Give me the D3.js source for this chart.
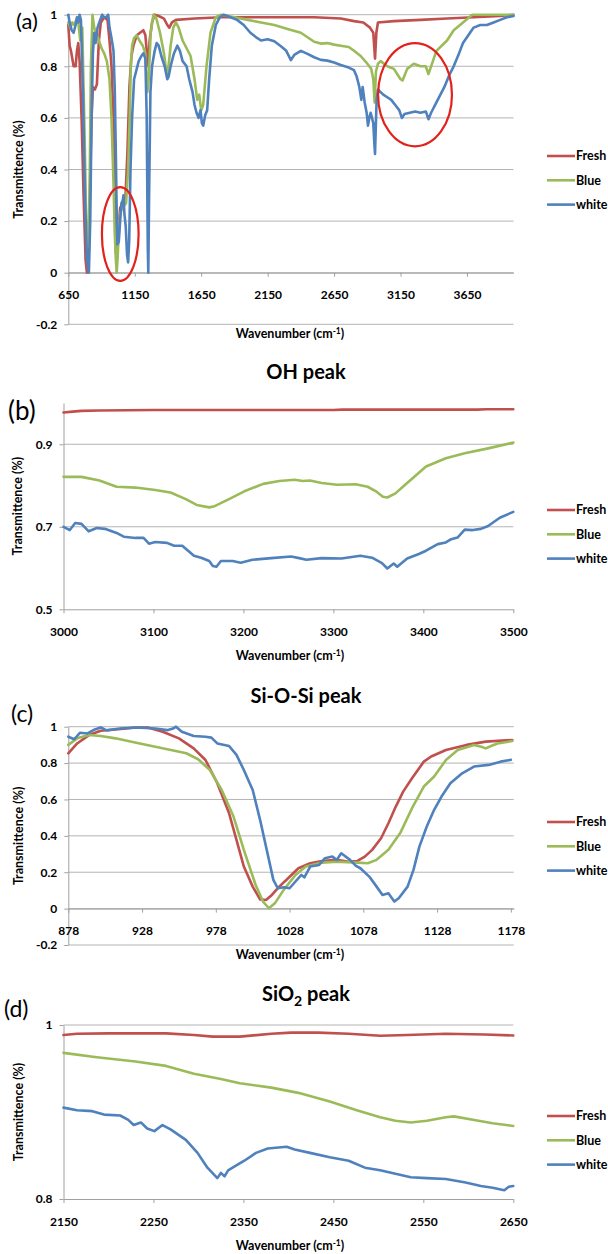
<!DOCTYPE html>
<html><head><meta charset="utf-8">
<script src="https://cdn.jsdelivr.net/npm/d3@7"></script>
<style>body{margin:0;background:#fff}svg{display:block}</style>
</head><body><svg id="chart" width="608" height="1254"></svg>
<script>
// ---------------- DATA ----------------
const seriesNames = ["Fresh", "Blue", "white"];

// Panel (a): full spectrum  [wavenumber, transmittance]
const aFresh = [[650,0.96],[660,0.88],[670,0.86],[690,0.8],[705,0.8],[715,0.86],[725,0.89],[735,0.82],[750,0.6],[765,0.3],[780,0.05],[790,0.0],[800,0.02],[812,0.3],[825,0.6],[835,0.72],[850,0.71],[865,0.73],[880,0.9],[895,0.97],[920,0.99],[945,0.98],[960,0.9],[975,0.8],[990,0.6],[1000,0.35],[1008,0.08],[1015,0.05],[1025,0.15],[1040,0.25],[1060,0.27],[1080,0.29],[1095,0.47],[1110,0.72],[1125,0.84],[1140,0.88],[1165,0.92],[1190,0.93],[1215,0.94],[1230,0.92],[1242,0.85],[1252,0.8],[1262,0.9],[1280,0.97],[1300,1.0],[1330,0.995],[1370,0.985],[1395,0.96],[1410,0.95],[1430,0.97],[1460,0.98],[1600,0.985],[1800,0.99],[2200,0.99],[2500,0.99],[2700,0.985],[2800,0.975],[2870,0.97],[2920,0.95],[2945,0.93],[2958,0.83],[2968,0.93],[2980,0.97],[3100,0.975],[3300,0.98],[3500,0.985],[3700,0.99],[3900,0.995],[4000,1.0]];
const aBlue = [[650,0.97],[665,0.95],[680,0.97],[695,0.96],[710,0.98],[725,0.97],[740,0.9],[755,0.95],[770,0.6],[785,0.2],[800,0.1],[810,0.3],[820,0.8],[832,1.0],[845,0.95],[860,0.93],[880,0.9],[900,0.87],[920,0.85],[940,0.82],[960,0.75],[975,0.6],[990,0.35],[1000,0.15],[1008,0.05],[1014,0.0],[1020,0.05],[1030,0.15],[1040,0.23],[1055,0.25],[1070,0.26],[1085,0.27],[1100,0.4],[1112,0.6],[1120,0.8],[1130,0.88],[1145,0.91],[1165,0.92],[1185,0.9],[1210,0.88],[1230,0.85],[1245,0.7],[1255,0.75],[1270,0.93],[1290,1.0],[1310,0.99],[1340,0.93],[1370,0.85],[1390,0.77],[1400,0.78],[1420,0.88],[1440,0.95],[1460,0.97],[1480,0.95],[1510,0.9],[1540,0.87],[1570,0.84],[1600,0.75],[1620,0.67],[1635,0.69],[1650,0.63],[1665,0.65],[1690,0.8],[1720,0.93],[1760,0.99],[1800,1.0],[1900,0.99],[2000,0.98],[2100,0.97],[2200,0.96],[2300,0.945],[2400,0.93],[2500,0.895],[2550,0.888],[2600,0.89],[2650,0.884],[2700,0.88],[2760,0.875],[2800,0.86],[2850,0.84],[2900,0.81],[2930,0.79],[2945,0.75],[2955,0.66],[2965,0.78],[2980,0.81],[3000,0.82],[3050,0.8],[3100,0.79],[3150,0.75],[3165,0.745],[3200,0.79],[3250,0.81],[3300,0.8],[3340,0.8],[3360,0.77],[3380,0.8],[3420,0.86],[3500,0.9],[3550,0.94],[3620,0.97],[3690,1.0],[4000,1.0]];
const aWhite = [[650,1.0],[660,0.97],[675,0.94],[690,0.93],[705,0.96],[715,0.99],[725,0.97],[735,1.0],[745,0.98],[760,0.7],[775,0.3],[790,0.05],[805,0.0],[815,0.2],[825,0.6],[835,0.85],[845,0.93],[855,0.89],[870,0.95],[890,0.98],[905,1.0],[920,0.99],[935,0.99],[950,1.0],[960,0.95],[975,0.91],[990,0.86],[1000,0.7],[1008,0.45],[1015,0.2],[1020,0.11],[1030,0.12],[1040,0.2],[1050,0.27],[1060,0.28],[1065,0.3],[1072,0.23],[1082,0.18],[1092,0.07],[1100,0.04],[1108,0.12],[1118,0.4],[1130,0.6],[1145,0.75],[1165,0.79],[1180,0.82],[1200,0.84],[1215,0.85],[1230,0.83],[1240,0.6],[1248,0.1],[1252,0.0],[1258,0.3],[1268,0.7],[1280,0.8],[1300,0.86],[1315,0.89],[1330,0.88],[1350,0.84],[1375,0.8],[1395,0.75],[1405,0.76],[1420,0.8],[1445,0.85],[1470,0.88],[1490,0.86],[1510,0.82],[1540,0.8],[1560,0.75],[1585,0.7],[1600,0.65],[1615,0.62],[1630,0.6],[1645,0.63],[1655,0.58],[1665,0.57],[1680,0.61],[1695,0.63],[1710,0.75],[1730,0.88],[1760,0.96],[1790,0.99],[1820,1.0],[1870,0.99],[1920,0.98],[1970,0.96],[2020,0.93],[2070,0.91],[2100,0.9],[2150,0.905],[2200,0.897],[2250,0.878],[2290,0.86],[2325,0.824],[2350,0.844],[2400,0.86],[2450,0.848],[2500,0.835],[2550,0.825],[2600,0.822],[2650,0.815],[2700,0.805],[2760,0.795],[2800,0.785],[2820,0.76],[2840,0.72],[2855,0.67],[2865,0.72],[2880,0.66],[2895,0.62],[2905,0.57],[2915,0.6],[2925,0.62],[2935,0.6],[2945,0.58],[2953,0.5],[2958,0.46],[2963,0.55],[2970,0.67],[2980,0.71],[3000,0.70],[3020,0.69],[3050,0.68],[3080,0.67],[3110,0.65],[3140,0.63],[3160,0.6],[3180,0.615],[3220,0.62],[3260,0.625],[3300,0.62],[3340,0.625],[3360,0.595],[3380,0.62],[3420,0.66],[3450,0.69],[3480,0.72],[3520,0.77],[3550,0.8],[3590,0.85],[3620,0.89],[3660,0.92],[3700,0.95],[3750,0.96],[3800,0.96],[3850,0.97],[3900,0.98],[3950,0.99],[4000,0.995]];

// Panel (b): OH peak
const bFresh = [[3000,0.977],[3010,0.979],[3020,0.981],[3040,0.982],[3100,0.983],[3200,0.983],[3300,0.983],[3310,0.984],[3400,0.984],[3460,0.984],[3470,0.985],[3500,0.985]];
const bBlue = [[3000,0.821],[3020,0.821],[3040,0.812],[3059,0.797],[3080,0.795],[3102,0.789],[3119,0.783],[3136,0.767],[3148,0.753],[3162,0.747],[3168,0.75],[3184,0.767],[3201,0.786],[3222,0.804],[3240,0.811],[3257,0.814],[3266,0.811],[3274,0.812],[3287,0.806],[3304,0.802],[3325,0.803],[3338,0.797],[3348,0.785],[3355,0.773],[3360,0.771],[3369,0.781],[3382,0.806],[3403,0.846],[3425,0.866],[3446,0.878],[3472,0.89],[3500,0.904]];
const bWhite = [[3000,0.70],[3007,0.692],[3013,0.709],[3020,0.707],[3028,0.689],[3037,0.697],[3046,0.695],[3059,0.685],[3067,0.676],[3080,0.673],[3089,0.673],[3095,0.659],[3102,0.663],[3115,0.661],[3123,0.654],[3132,0.654],[3145,0.630],[3153,0.625],[3162,0.617],[3166,0.605],[3170,0.603],[3175,0.617],[3188,0.617],[3197,0.613],[3210,0.620],[3231,0.624],[3253,0.628],[3262,0.624],[3270,0.620],[3287,0.624],[3309,0.623],[3330,0.630],[3343,0.625],[3354,0.612],[3360,0.599],[3367,0.611],[3371,0.603],[3382,0.623],[3395,0.634],[3403,0.642],[3416,0.658],[3425,0.662],[3431,0.670],[3438,0.674],[3446,0.693],[3455,0.692],[3464,0.695],[3472,0.702],[3485,0.722],[3500,0.736]];

// Panel (c): Si-O-Si peak
const cFresh = [[878,0.854],[884,0.908],[892,0.954],[900,0.978],[910,0.985],[924,0.996],[932,0.996],[942,0.972],[953,0.936],[963,0.881],[971,0.817],[979,0.689],[987,0.524],[992,0.378],[997,0.231],[1003,0.121],[1008,0.051],[1012,0.047],[1016,0.075],[1021,0.121],[1027,0.167],[1034,0.222],[1042,0.249],[1050,0.262],[1060,0.268],[1068,0.258],[1074,0.262],[1079,0.286],[1084,0.323],[1090,0.387],[1095,0.469],[1100,0.561],[1105,0.643],[1111,0.717],[1119,0.808],[1124,0.836],[1134,0.872],[1148,0.9],[1161,0.918],[1179,0.927]];
const cBlue = [[878,0.9],[884,0.936],[892,0.954],[900,0.949],[910,0.936],[924,0.912],[937,0.89],[950,0.868],[958,0.854],[966,0.821],[974,0.762],[982,0.652],[990,0.506],[997,0.323],[1005,0.13],[1010,0.039],[1014,0.002],[1018,0.029],[1024,0.103],[1032,0.185],[1039,0.231],[1050,0.253],[1060,0.258],[1074,0.253],[1081,0.249],[1087,0.268],[1095,0.323],[1103,0.415],[1111,0.552],[1119,0.671],[1126,0.726],[1134,0.817],[1142,0.872],[1153,0.9],[1158,0.89],[1161,0.881],[1165,0.895],[1169,0.908],[1179,0.921]];
const cWhite = [[878,0.945],[882,0.931],[886,0.967],[891,0.963],[896,0.985],[900,0.996],[904,0.98],[913,0.99],[924,0.996],[937,0.99],[945,0.981],[949,0.99],[951,1.0],[955,0.972],[963,0.949],[971,0.945],[975,0.94],[979,0.908],[987,0.894],[992,0.845],[997,0.762],[1003,0.652],[1008,0.488],[1013,0.305],[1017,0.158],[1020,0.112],[1024,0.117],[1028,0.112],[1032,0.149],[1036,0.185],[1038,0.172],[1042,0.231],[1048,0.24],[1052,0.277],[1057,0.286],[1060,0.268],[1063,0.304],[1069,0.268],[1073,0.235],[1076,0.222],[1082,0.176],[1087,0.121],[1091,0.075],[1095,0.084],[1099,0.039],[1102,0.057],[1108,0.121],[1112,0.213],[1116,0.341],[1121,0.451],[1126,0.543],[1131,0.616],[1137,0.689],[1145,0.744],[1153,0.781],[1163,0.79],[1171,0.808],[1178,0.818]];

// Panel (d): SiO2 peak
const dFresh = [[2150,0.9885],[2165,0.990],[2200,0.9904],[2264,0.9904],[2295,0.9885],[2316,0.9866],[2346,0.9866],[2381,0.990],[2403,0.9912],[2433,0.9912],[2467,0.990],[2502,0.9877],[2532,0.9885],[2575,0.990],[2618,0.989],[2650,0.988]];
const dBlue = [[2150,0.968],[2187,0.963],[2230,0.958],[2264,0.953],[2295,0.944],[2325,0.938],[2346,0.933],[2381,0.928],[2411,0.922],[2446,0.912],[2476,0.902],[2502,0.894],[2519,0.89],[2536,0.888],[2554,0.89],[2575,0.894],[2584,0.895],[2605,0.891],[2627,0.887],[2650,0.884]];
const dWhite = [[2150,0.905],[2165,0.902],[2182,0.901],[2195,0.897],[2213,0.896],[2222,0.891],[2228,0.885],[2236,0.888],[2243,0.881],[2251,0.878],[2260,0.885],[2269,0.880],[2286,0.868],[2299,0.853],[2310,0.836],[2321,0.824],[2325,0.830],[2329,0.826],[2333,0.833],[2338,0.836],[2351,0.844],[2364,0.853],[2377,0.858],[2398,0.86],[2407,0.857],[2424,0.853],[2446,0.848],[2467,0.844],[2485,0.836],[2502,0.833],[2519,0.829],[2536,0.825],[2554,0.824],[2575,0.823],[2597,0.819],[2614,0.815],[2627,0.813],[2640,0.81],[2645,0.814],[2650,0.815]];

// Tick labels
const aTicksX = [650,1150,1650,2150,2650,3150,3650];
const aTicksY = [-0.2,0,0.2,0.4,0.6,0.8,1];
const bTicksX = [3000,3100,3200,3300,3400,3500];
const bTicksY = [0.5,0.7,0.9];
const cTicksX = [878,928,978,1028,1078,1128,1178];
const cTicksY = [-0.2,0,0.2,0.4,0.6,0.8,1];
const dTicksX = [2150,2250,2350,2450,2550,2650];
const dTicksY = [0.8,1];

// Highlight ellipses on panel (a): centre and radii in data units
const aHighlights = [
  {cx:1041, cy:0.15, rx:138, ry:0.182},
  {cx:3259, cy:0.69, rx:278, ry:0.20}
];

// ---------------- STYLE / LAYOUT ----------------
const colors = ["#C0504D", "#9BBB59", "#4F81BD"];
const FONT = "Lato, 'Open Sans', sans-serif";
const gridColor = "#b4b4b4";
const axisColor = "#a0a0a0";

const panels = [
  {label:"(a)", labelX:16, labelY:29, labelSize:22, title:null,
   xDomain:[650,4000], xRange:[68.3,513.5], yDomain:[-0.2,1], yRange:[324.3,14.7],
   xAxisAt:0, xTicks:aTicksX, yTicks:aTicksY, grid:aTicksY,
   series:[aFresh,aBlue,aWhite], highlights:aHighlights,
   legendY:156, xTitleY:338, yTitleX:23},
  {label:"(b)", labelX:8, labelY:420, labelSize:26, title:["OH peak"], titleY:379,
   xDomain:[3000,3500], xRange:[63.5,513.3], yDomain:[0.5,1.0], yRange:[609.3,403],
   xAxisAt:0.5, xTicks:bTicksX, yTicks:bTicksY, grid:[0.7,0.9],
   series:[bFresh,bBlue,bWhite], highlights:[],
   legendY:510, xTitleY:660, yTitleX:22},
  {label:"(c)", labelX:11, labelY:722, labelSize:23, title:["Si-O-Si peak"], titleY:703,
   xDomain:[878,1180], xRange:[68.3,513.8], yDomain:[-0.2,1], yRange:[945,726.7],
   xAxisAt:0, xTicks:cTicksX, yTicks:cTicksY, grid:cTicksY,
   series:[cFresh,cBlue,cWhite], highlights:[],
   legendY:822, xTitleY:959, yTitleX:23},
  {label:"(d)", labelX:4, labelY:1017, labelSize:23, title:["SiO","2"," peak"], titleY:1001,
   xDomain:[2150,2650], xRange:[63.5,513.3], yDomain:[0.8,1.0], yRange:[1199,1025],
   xAxisAt:0.8, xTicks:dTicksX, yTicks:dTicksY, grid:[1.0],
   series:[dFresh,dBlue,dWhite], highlights:[],
   legendY:1116, xTitleY:1250, yTitleX:23}
];

const svg = d3.select("#chart");
svg.append("rect").attr("width",608).attr("height",1254).attr("fill","#fff");

const fmtY = d => String(Math.round(d*10)/10);

panels.forEach((p, i) => {
  const x = d3.scaleLinear().domain(p.xDomain).range(p.xRange);
  const y = d3.scaleLinear().domain(p.yDomain).range(p.yRange);
  const g = svg.append("g");

  // gridlines
  g.selectAll("line.grid").data(p.grid).join("line")
    .attr("x1", p.xRange[0]).attr("x2", p.xRange[1])
    .attr("y1", d => y(d)).attr("y2", d => y(d))
    .attr("stroke", gridColor).attr("stroke-width", 1);

  // y axis
  const ya = g.append("g").attr("transform", `translate(${p.xRange[0]},0)`)
    .call(d3.axisLeft(y).tickValues(p.yTicks).tickSize(4).tickSizeOuter(0).tickPadding(7).tickFormat(fmtY));
  // x axis
  const xa = g.append("g").attr("transform", `translate(0,${y(p.xAxisAt)})`)
    .call(d3.axisBottom(x).tickValues(p.xTicks).tickSize(4).tickSizeOuter(0).tickPadding(14).tickFormat(d => String(d)));
  [ya, xa].forEach(a => {
    a.select(".domain").attr("stroke", axisColor).attr("stroke-width", 1);
    a.selectAll(".tick line").attr("stroke", axisColor);
    a.selectAll(".tick text").attr("fill", "#000").attr("font-family", FONT)
      .attr("font-weight", "bold").attr("font-size", "12px");
  });

  // series lines
  const line = d3.line().x(d => x(d[0])).y(d => y(d[1]));
  p.series.forEach((s, k) => {
    g.append("path").datum(s).attr("d", line)
      .attr("fill", "none").attr("stroke", colors[k]).attr("stroke-width", 2.6)
      .attr("stroke-linejoin", "round").attr("stroke-linecap", "round");
  });

  // highlight ellipses
  p.highlights.forEach(e => {
    g.append("ellipse")
      .attr("cx", x(e.cx)).attr("cy", y(e.cy))
      .attr("rx", x(e.cx + e.rx) - x(e.cx)).attr("ry", y(e.cy - e.ry) - y(e.cy))
      .attr("fill", "none").attr("stroke", "#e3211c").attr("stroke-width", 2.2);
  });

  // panel label
  g.append("text").attr("x", p.labelX).attr("y", p.labelY)
    .attr("font-family", FONT).attr("font-size", p.labelSize + "px").attr("fill", "#000")
    .text(p.label);

  // title
  if (p.title) {
    const t = g.append("text").attr("x", 306).attr("y", p.titleY).attr("text-anchor", "middle")
      .attr("font-family", FONT).attr("font-weight", "bold").attr("font-size", "20px").attr("fill", "#000");
    if (p.title.length === 1) t.text(p.title[0]);
    else {
      t.append("tspan").text(p.title[0]);
      t.append("tspan").attr("dy", 5).attr("font-size", "14px").text(p.title[1]);
      t.append("tspan").attr("dy", -5).text(p.title[2]);
    }
  }

  // x axis title
  const xt = g.append("text").attr("x", 290).attr("y", p.xTitleY).attr("text-anchor", "middle")
    .attr("font-family", FONT).attr("font-weight", "bold").attr("font-size", "12.5px").attr("fill", "#000");
  xt.append("tspan").text("Wavenumber (cm");
  xt.append("tspan").attr("dy", -4).attr("font-size", "8.5px").text("-1");
  xt.append("tspan").attr("dy", 4).text(")");

  // y axis title
  const cy = (p.yRange[0] + p.yRange[1]) / 2;
  g.append("text").attr("transform", `translate(${p.yTitleX},${cy}) rotate(-90)`)
    .attr("text-anchor", "middle").attr("font-family", FONT).attr("font-weight", "bold")
    .attr("font-size", "12.5px").attr("fill", "#000").text("Transmittence (%)");

  // legend
  const lg = g.append("g");
  seriesNames.forEach((n, k) => {
    const ly = p.legendY + k * 24.3;
    lg.append("line").attr("x1", 547).attr("x2", 575).attr("y1", ly).attr("y2", ly)
      .attr("stroke", colors[k]).attr("stroke-width", 2.6);
    lg.append("text").attr("x", 576).attr("y", ly + 4.4)
      .attr("font-family", FONT).attr("font-weight", "bold").attr("font-size", "12.5px")
      .attr("fill", "#000").text(n);
  });
});
</script></body></html>
